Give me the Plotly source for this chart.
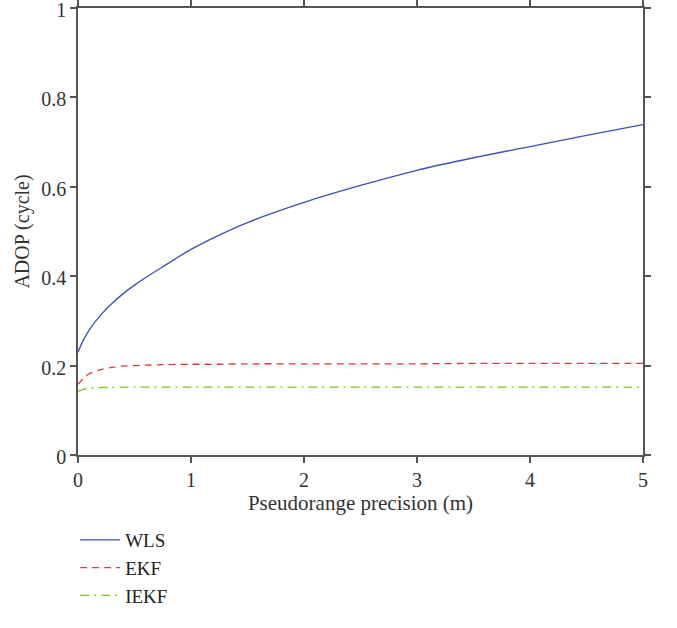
import plotly.graph_objects as go

x_vals = [0, 0.05, 0.1, 0.2, 0.3, 0.4, 0.5, 0.6, 0.75, 1, 1.25, 1.5, 2, 2.5, 3, 3.5, 4, 4.5, 5]
wls = [0.23, 0.258, 0.28, 0.313, 0.339, 0.361, 0.38, 0.397, 0.421, 0.46, 0.492, 0.52, 0.565, 0.603, 0.637, 0.665, 0.69, 0.715, 0.739]
ekf = [0.158, 0.172, 0.182, 0.191, 0.196, 0.199, 0.2, 0.201, 0.202, 0.203, 0.203, 0.204, 0.204, 0.204, 0.204, 0.205, 0.205, 0.205, 0.205]
iekf = [0.142, 0.147, 0.149, 0.151, 0.151, 0.152, 0.152, 0.152, 0.152, 0.152, 0.152, 0.152, 0.152, 0.152, 0.152, 0.152, 0.152, 0.152, 0.152]

x_ticks = [0, 1, 2, 3, 4, 5]
y_ticks = [0, 0.2, 0.4, 0.6, 0.8, 1]
y_tick_text = ["0", "0.2", "0.4", "0.6", "0.8", "1"]

font_family = "Liberation Serif, DejaVu Serif, serif"

fig = go.Figure()
fig.add_trace(go.Scatter(x=x_vals, y=wls, mode="lines", name="WLS",
                         line=dict(color="#3e4fb8", width=1.3, shape="spline", smoothing=1.0)))
fig.add_trace(go.Scatter(x=x_vals, y=ekf, mode="lines", name="EKF",
                         line=dict(color="#e03c31", width=1.3, dash="7px,5px", shape="spline", smoothing=0.8)))
fig.add_trace(go.Scatter(x=x_vals, y=iekf, mode="lines", name="IEKF",
                         line=dict(color="#7cc520", width=1.3, dash="9px,5px,2px,5px", shape="spline", smoothing=0.8)))

axis_common = dict(
    showgrid=False, zeroline=False, showline=True, linecolor="#555555", linewidth=1.5,
    mirror="ticks", ticks="outside", ticklen=6, tickwidth=1.5, tickcolor="#555555",
    tickfont=dict(family=font_family, size=20, color="#333333"),
    ticklabeloverflow="allow",
)

fig.update_layout(
    width=677, height=628,
    margin=dict(l=78, r=34, t=8, b=173),
    paper_bgcolor="white", plot_bgcolor="white",
    font=dict(family=font_family, size=20, color="#222222"),
    xaxis=dict(range=[0, 5], tickvals=x_ticks, automargin="bottom",
               title=dict(text="Pseudorange precision (m)", standoff=4,
                          font=dict(family=font_family, size=21, color="#333333")),
               **axis_common),
    yaxis=dict(range=[0, 1], tickvals=y_ticks, ticktext=y_tick_text,
               ticklabelshift=2, automargin="left",
               title=dict(text="ADOP (cycle)", standoff=6,
                          font=dict(family=font_family, size=20, color="#333333")),
               **axis_common),
    legend=dict(x=-0.005, xanchor="left", y=-0.358, yanchor="bottom",
                font=dict(family=font_family, size=19, color="#222222"),
                bgcolor="rgba(0,0,0,0)", itemwidth=40, tracegroupgap=0),
    showlegend=True,
)

fig.write_html("out.html")
